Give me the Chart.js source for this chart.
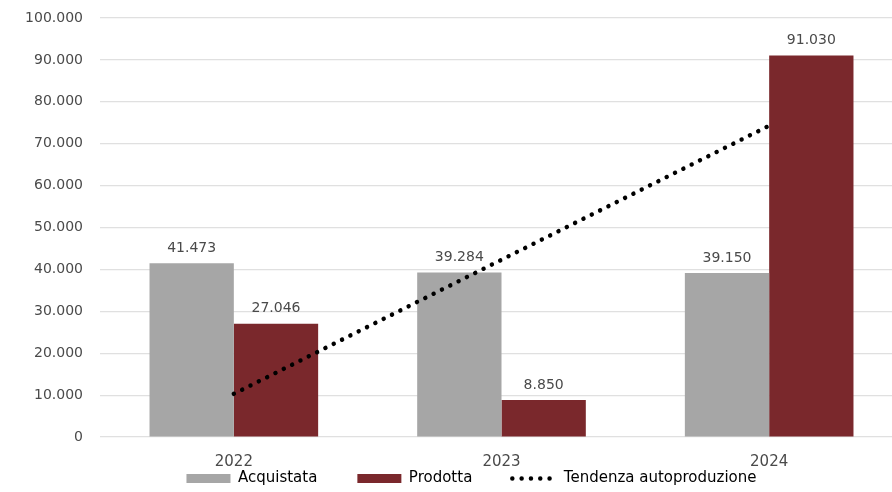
<!DOCTYPE html>
<html>
<head>
<meta charset="utf-8">
<script src="https://cdn.jsdelivr.net/npm/chart.js@4"></script>
<style>
  html, body { margin: 0; padding: 0; background: #fff; overflow: hidden; }
  #wrap { width: 903px; height: 492px; }
</style>
</head>
<body>
<div id="wrap"><canvas id="chart" width="903" height="492"></canvas></div>
<script>
// Energia acquistata vs prodotta (kWh)
const years      = ["2022", "2023", "2024"];
const acquistata = [41473, 39284, 39150];
const prodotta   = [27046, 8850, 91030];
const tendenza   = [10300, 42300, 74300];
const yMax  = 100000;
const yStep = 10000;

const FONT = "'DejaVu Sans', sans-serif";
const TEXT = "#4a4a4a";
const GRAY = "#a6a6a6";
const RED  = "#7a282c";

const fmt = n => String(n).replace(/\B(?=(\d{3})+(?!\d))/g, ".");

// value labels above the bars
const barLabels = {
  id: "barLabels",
  afterDatasetsDraw(chart) {
    const ctx = chart.ctx;
    ctx.save();
    ctx.font = "14px " + FONT;
    ctx.fillStyle = TEXT;
    ctx.textAlign = "center";
    ctx.textBaseline = "bottom";
    chart.data.datasets.forEach((ds, i) => {
      if (ds.type !== "bar") return;
      chart.getDatasetMeta(i).data.forEach((bar, j) => {
        ctx.fillText(fmt(ds.data[j]), bar.x, bar.y - 8);
      });
    });
    ctx.restore();
  }
};

// legend: wide gaps between items but almost no height, tucked under the ticks
const legendFit = {
  id: "legendFit",
  afterInit(chart) {
    const lg = chart.legend;
    const fit = lg.fit;
    lg.fit = function () { fit.call(this); this.height = 5; };
  },
  afterLayout(chart) {
    const lg = chart.legend;
    lg.left += 20;  lg.right += 20;
    lg.top -= 56;
  }
};

new Chart(document.getElementById("chart"), {
  data: {
    labels: years,
    datasets: [
      { type: "bar", label: "Acquistata", data: acquistata, backgroundColor: GRAY, order: 1 },
      { type: "bar", label: "Prodotta", data: prodotta, backgroundColor: RED, order: 1 },
      {
        type: "line", label: "Tendenza autoproduzione", data: tendenza,
        borderColor: "#000", borderWidth: 4.5, borderDash: [0.01, 9.3],
        borderCapStyle: "round", pointRadius: 0, fill: false, order: 0
      }
    ]
  },
  options: {
    responsive: false,
    animation: false,
    datasets: { bar: { barPercentage: 1, categoryPercentage: 0.63 } },
    layout: { padding: { top: 18, bottom: 0 } },
    plugins: {
      tooltip: { enabled: false },
      legend: {
        position: "bottom",
        labels: {
          usePointStyle: true,
          pointStyleWidth: 44,
          boxHeight: 9,
          padding: 40,
          color: TEXT,
          font: { family: FONT, size: 15 },
          generateLabels: () => [
            { text: "Acquistata", fillStyle: GRAY, strokeStyle: GRAY, lineWidth: 0, pointStyle: "rect", datasetIndex: 0, hidden: false },
            { text: "Prodotta", fillStyle: RED, strokeStyle: RED, lineWidth: 0, pointStyle: "rect", datasetIndex: 1, hidden: false },
            { text: "Tendenza autoproduzione", fillStyle: "#000", strokeStyle: "#000", lineWidth: 4.5,
              lineDash: [0.01, 9.3], lineCap: "round", pointStyle: "line", datasetIndex: 2, hidden: false }
          ]
        }
      }
    },
    scales: {
      x: {
        grid: { display: false, drawTicks: false },
        border: { display: false },
        ticks: { color: TEXT, padding: 16, font: { family: FONT, size: 15 } }
      },
      y: {
        min: 0, max: yMax,
        afterFit: scale => { scale.width = 100; scale.paddingTop = 0; scale.paddingBottom = 0; },
        grid: { color: "#e0e0e0", lineWidth: 1.2, drawTicks: false },
        border: { display: false },
        ticks: {
          stepSize: yStep, padding: 17, color: TEXT,
          font: { family: FONT, size: 14 },
          callback: v => fmt(v)
        }
      }
    }
  },
  plugins: [barLabels, legendFit]
});
</script>
</body>
</html>
